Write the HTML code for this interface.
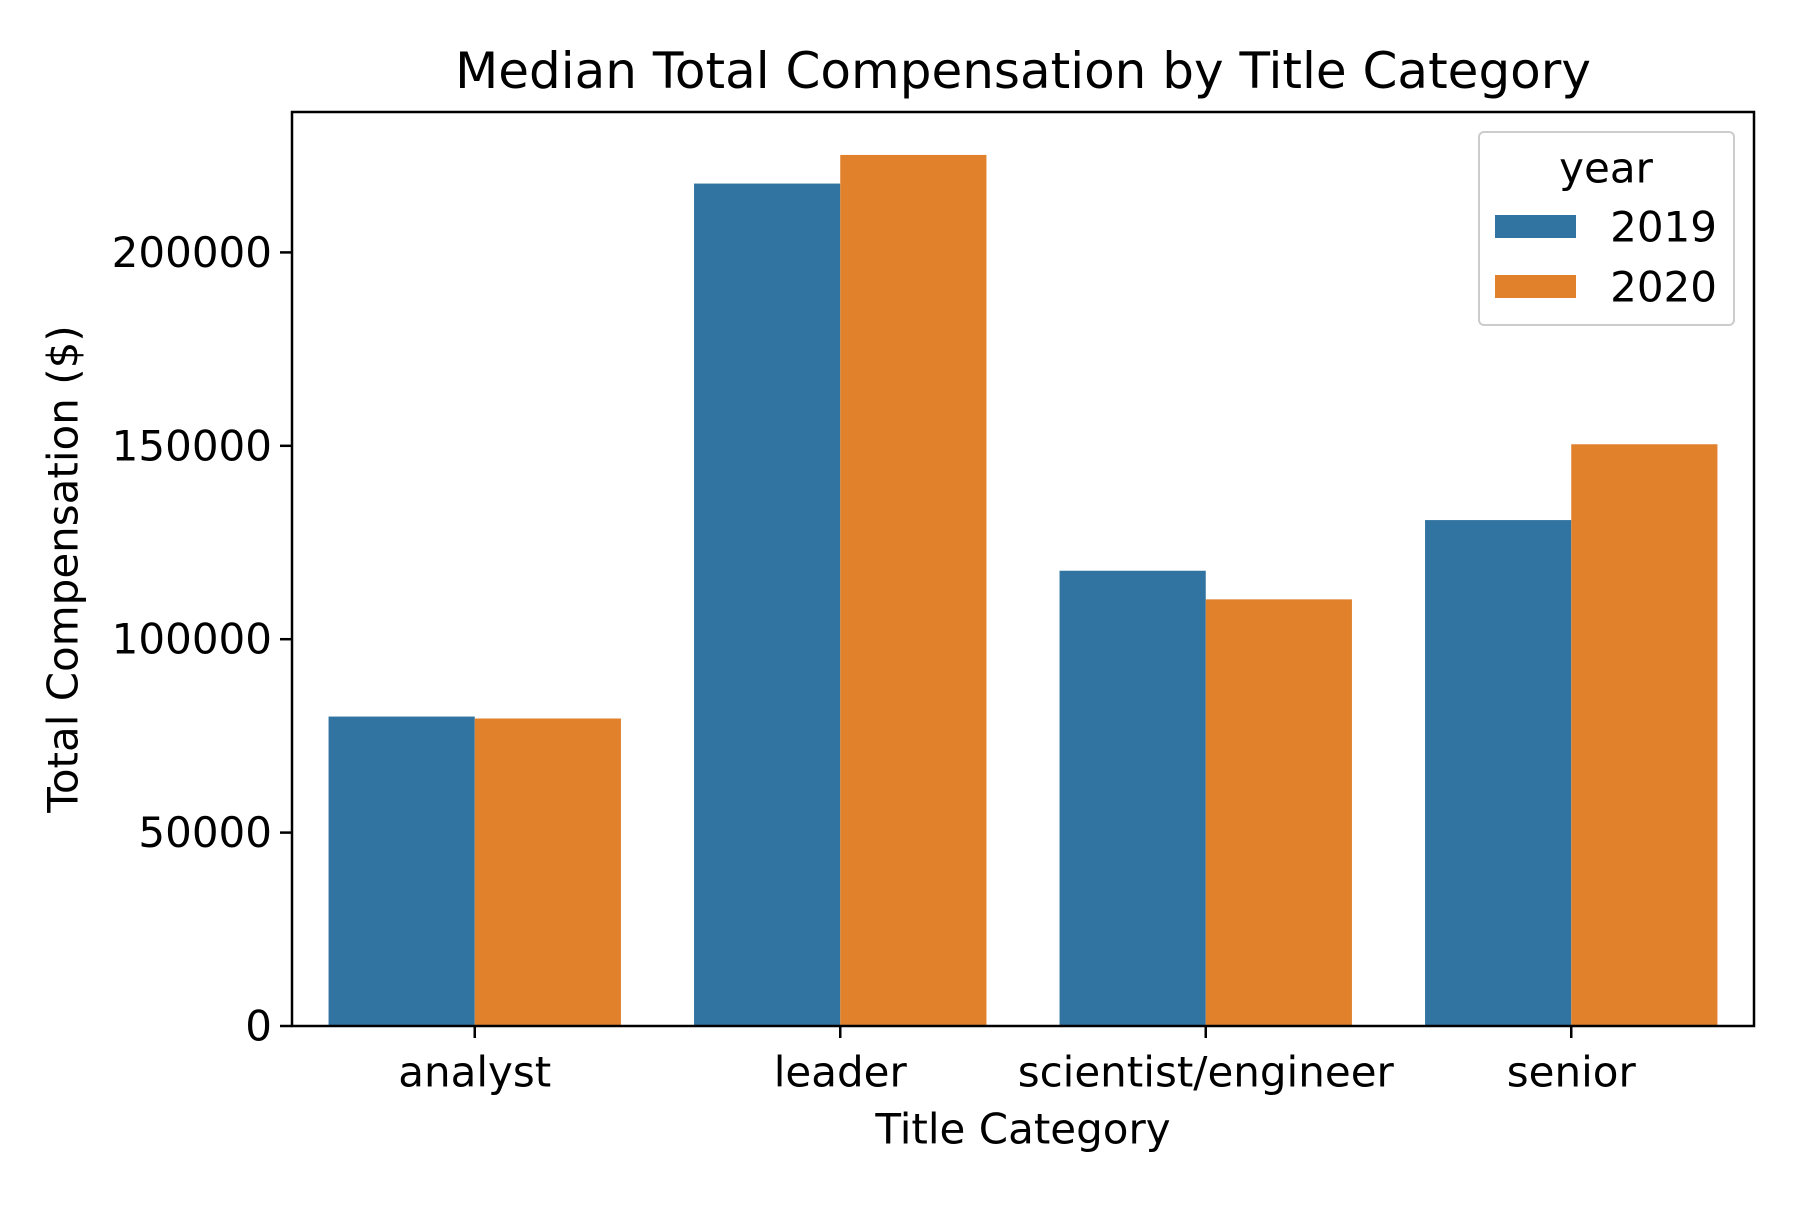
<!DOCTYPE html>
<html><head><meta charset="utf-8"><style>
html,body{margin:0;padding:0;background:#fff;}
svg text{font-family:"DejaVu Sans","Liberation Sans",sans-serif;fill:#000;}
</style></head><body>
<svg id="chart" width="1800" height="1200" viewBox="0 0 1800 1200" xmlns="http://www.w3.org/2000/svg">
<text x="1023" y="71" font-size="50" text-anchor="middle" dominant-baseline="central">Median Total Compensation by Title Category</text>
<g id="bars"></g>
<g id="axes"></g>
<text x="1023" y="1129" font-size="42" text-anchor="middle" dominant-baseline="central">Title Category</text>
<text x="63" y="569" font-size="42" text-anchor="middle" dominant-baseline="central" transform="rotate(-90 63 569)">Total Compensation ($)</text>
<g>
<rect x="1479" y="132" width="255" height="193" rx="5" fill="#fff" fill-opacity="0.8" stroke="#ccc" stroke-width="2"/>
<text x="1606" y="168" font-size="42" text-anchor="middle" dominant-baseline="central">year</text>
<rect x="1495" y="215" width="81" height="23" fill="#3274a1"/>
<text x="1717" y="227" font-size="42" text-anchor="end" dominant-baseline="central">2019</text>
<rect x="1495" y="275" width="81" height="23" fill="#e1812c"/>
<text x="1717" y="287" font-size="42" text-anchor="end" dominant-baseline="central">2020</text>
</g>
</svg>
<script>
const categories = ["analyst","leader","scientist/engineer","senior"];
const values2019 = [80000,217800,117700,130800];
const values2020 = [79500,225200,110300,150400];
const yTicks = [0,50000,100000,150000,200000];
const yTickLabels = ["0","50000","100000","150000","200000"];

const NS="http://www.w3.org/2000/svg";
const L=292,R=1754,T=112,B=1026,YMAX=236300;
const y=v=>B-(v/YMAX)*(B-T);
const x=c=>L+(c+0.5)*(R-L)/categories.length;
const unit=(R-L)/categories.length;
function mk(tag,attrs,parent){const e=document.createElementNS(NS,tag);for(const k in attrs)e.setAttribute(k,attrs[k]);parent.appendChild(e);return e;}
const bars=document.getElementById('bars'),axes=document.getElementById('axes');
[[values2019,"#3274a1","2019",-0.4],[values2020,"#e1812c","2020",0]].forEach(([vals,col,yr,off])=>{
  vals.forEach((v,i)=>{
    const r=mk('rect',{x:x(i)+off*unit,y:y(v),width:0.4*unit,height:B-y(v),fill:col},bars);
    
    
  });
});
mk('rect',{x:L,y:T,width:R-L,height:B-T,fill:'none',stroke:'#000',"stroke-width":2.5},axes);
yTicks.forEach((t,i)=>{
  const l=mk('line',{x1:L-12,x2:L,y1:y(t),y2:y(t),stroke:'#000',"stroke-width":2.5},axes);
  
  
  const tx=mk('text',{x:L-20,y:y(t),"font-size":42,"text-anchor":"end","dominant-baseline":"central"},axes);
  tx.textContent=yTickLabels[i];
  
  
});
categories.forEach((c,i)=>{
  const l=mk('line',{x1:x(i),x2:x(i),y1:B,y2:B+12,stroke:'#000',"stroke-width":2.5},axes);
  
  
  const tx=mk('text',{x:x(i),y:1072,"font-size":42,"text-anchor":"middle","dominant-baseline":"central"},axes);
  tx.textContent=c;
  
  
});
</script>
</body></html>
